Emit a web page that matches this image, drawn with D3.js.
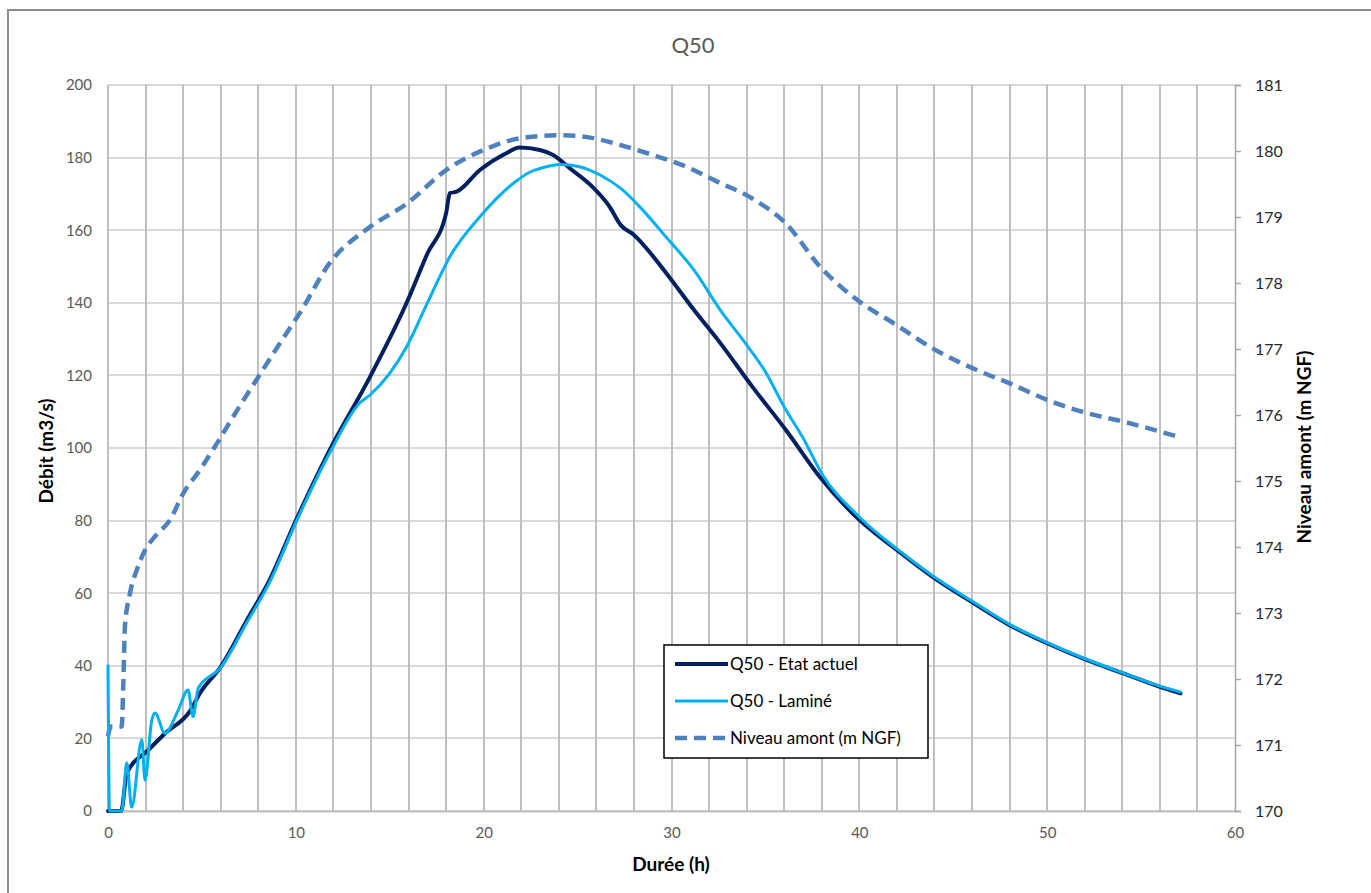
<!DOCTYPE html>
<html lang="fr">
<head>
<meta charset="UTF-8">
<title>Q50</title>
<style>
    body { margin:0; background:#fff; }
    svg { font-family: Lato, "Open Sans", sans-serif; }
    .grid line { shape-rendering:crispEdges; }
</style>
</head>
<body>
<script src="https://cdn.jsdelivr.net/npm/d3@7/dist/d3.min.js"></script>
<script>
// Q50 - Etat actuel (débit m3/s)
var actuelT = [0,0.7,1.0,2.15,3.0,4.4,4.9,6.0,7.4,8.6,10,11.8,13.95,15.9,17.0,18.0,18.2,18.56,19.8,21.2,21.9,23.0,23.7,24.6,25.7,26.7,27.3,28.0,29.6,31.2,32.6,34.3,36.1,37.9,40.0,42.0,43.9,46.1,48.0,50.0,52.1,54.05,56.0,57.1];
var actuelV = [0,0,10.4,16.8,21.2,27.8,32.5,39.7,52.6,63.6,80,99.4,119.6,140,153.5,164.7,170.2,170.6,176.6,181.2,182.8,182.1,180.7,177,172.4,166.5,161.4,158.7,149,138,128.9,116.9,104.9,92,80.2,71.9,64.5,57.2,51.2,46.2,41.6,37.9,34.2,32.4];

// Q50 - Laminé (débit m3/s)
var lamineT = [0,0.08,0.73,1.0,1.26,1.8,1.97,2.33,2.5,3.03,3.74,4.26,4.53,4.8,6.0,7.4,8.6,10,11.8,13.4,13.95,15.9,17.0,18.2,19.8,21.6,22.5,23.0,24.1,25.1,26.2,27.3,28.3,29.7,31.2,32.6,34.0,35.0,36.0,37.0,38.0,40,42,43.9,46.1,48,50,52.1,54.05,56,57.1];
var lamineV = [40,0,0,13.3,1,19.6,8.5,25,27,21.4,27.8,33.3,26,33.8,39.5,52,63,79.5,98.6,112.4,114.6,127.9,139.9,152.7,163.7,173,176.1,177,178.1,177.5,175.2,171.5,166.5,158.2,149,138,128.4,121,111.3,102.8,93,81,72.2,64.8,57.5,51.4,46.4,41.8,38.0,34.4,32.8];

// Niveau amont (m NGF), axe secondaire
var niveauT = [0,0.15,0.73,0.82,0.9,1.17,1.53,1.97,2.5,3.3,4.0,4.9,5.8,7.0,7.9,9.16,10.2,11.8,13.95,15.9,18.0,20.2,21.9,24.1,25.5,27.3,29.0,30.8,32.4,34.3,36.1,37.9,40,42,43.9,46.1,48,50,52.1,54.05,56,57.1];
var niveauV = [171.13,171.28,171.28,171.98,172.79,173.3,173.65,173.95,174.16,174.41,174.81,175.17,175.57,176.13,176.53,177.09,177.54,178.3,178.85,179.2,179.71,180.04,180.19,180.24,180.21,180.09,179.94,179.76,179.54,179.28,178.9,178.25,177.72,177.36,177.01,176.7,176.48,176.23,176.03,175.9,175.75,175.66];

var xTicks = [0,10,20,30,40,50,60];
var yTicks = [0,20,40,60,80,100,120,140,160,180,200];
var y2Ticks = [170,171,172,173,174,175,176,177,178,179,180,181];
var legendLabels = ["Q50 - Etat actuel","Q50 - Laminé","Niveau amont (m NGF)"];

var w = 1371, h = 893;
var pLeft = 108, pRight = 1235, pTop = 85, pBottom = 811;

var svg = d3.select("body").append("svg").attr("width",w).attr("height",h);

// cadre extérieur
svg.append("rect").attr("x",8).attr("y",10).attr("width",1400).attr("height",900)
    .attr("fill","none").attr("stroke","#8c8c8c").attr("stroke-width",2);

var x = d3.scaleLinear().domain([0,60]).range([pLeft,pRight]);
var y = d3.scaleLinear().domain([0,200]).range([pBottom,pTop]);
var y2 = d3.scaleLinear().domain([170,181]).range([pBottom,pTop]);

// grille horizontale
svg.append("g").attr("class","grid").selectAll("line")
    .data(yTicks).enter().append("line")
    .attr("x1",pLeft).attr("x2",pRight)
    .attr("y1",function (d) { return Math.round(y(d)); })
    .attr("y2",function (d) { return Math.round(y(d)); })
    .attr("stroke","#d9d9d9").attr("stroke-width",2);

// grille verticale, toutes les 2 h
svg.append("g").attr("class","grid").selectAll("line")
    .data(d3.range(0,60,2)).enter().append("line")
    .attr("x1",function (d) { return Math.round(x(d)); })
    .attr("x2",function (d) { return Math.round(x(d)); })
    .attr("y1",pTop).attr("y2",pBottom)
    .attr("stroke","#bfbfbf").attr("stroke-width",2);

// axe x
var xAxis = d3.axisBottom(x).tickValues(xTicks).tickSize(0).tickPadding(16);
var gx = svg.append("g").attr("transform","translate(0,"+pBottom+")").call(xAxis);
gx.select(".domain").attr("stroke","#bfbfbf").attr("stroke-width",2);
gx.selectAll("text").attr("fill","#595959").style("font-size","15px").style("font-family","Lato, sans-serif");

// axe y gauche
var yAxis = d3.axisLeft(y).tickValues(yTicks).tickSize(0).tickPadding(16);
var gy = svg.append("g").attr("transform","translate("+pLeft+",0)").call(yAxis);
gy.select(".domain").remove();
gy.selectAll("text").attr("fill","#595959").style("font-size","15px").style("font-family","Lato, sans-serif");

// axe y droit
var y2Axis = d3.axisRight(y2).tickValues(y2Ticks).tickSize(6).tickPadding(14);
var gy2 = svg.append("g").attr("transform","translate("+pRight+",0)").call(y2Axis);
gy2.select(".domain").attr("stroke","#a6a6a6").attr("stroke-width",1.5);
gy2.selectAll("line").attr("stroke","#a6a6a6").attr("stroke-width",1.5);
gy2.selectAll("text").attr("fill","#262626").style("font-size","16px").style("font-family","Lato, sans-serif");

// courbes
function lineOf(ts, vs, scale) {
    var pts = ts.map(function (t,i) { return [t, vs[i]]; });
    return d3.line()
        .x(function (d) { return x(d[0]); })
        .y(function (d) { return scale(d[1]); })
        .curve(d3.curveMonotoneX)(pts);
}

svg.append("path").attr("d",lineOf(niveauT,niveauV,y2))
    .attr("fill","none").attr("stroke","#4f81bd").attr("stroke-width",4.5)
    .attr("stroke-dasharray","12,7");

svg.append("path").attr("d",lineOf(actuelT,actuelV,y))
    .attr("fill","none").attr("stroke","#002060").attr("stroke-width",4)
    .attr("stroke-linejoin","round").attr("stroke-linecap","round");

svg.append("path").attr("d",lineOf(lamineT,lamineV,y))
    .attr("fill","none").attr("stroke","#00b0f0").attr("stroke-width",3)
    .attr("stroke-linejoin","round").attr("stroke-linecap","round");

// titres
svg.append("text").attr("x",693).attr("y",53).attr("text-anchor","middle")
    .attr("fill","#595959").style("font-size","22px").text("Q50");

svg.append("text").attr("x",671).attr("y",871).attr("text-anchor","middle")
    .attr("fill","#000").style("font-size","19px").style("font-weight","bold").text("Durée (h)");

svg.append("text").attr("transform","translate(53,451) rotate(-90)").attr("text-anchor","middle")
    .attr("fill","#000").style("font-size","19px").style("font-weight","bold").text("Débit (m3/s)");

svg.append("text").attr("transform","translate(1311,447) rotate(-90)").attr("text-anchor","middle")
    .attr("fill","#000").style("font-size","19px").style("font-weight","bold").text("Niveau amont (m NGF)");

// légende
var lg = svg.append("g").attr("transform","translate(664,645)");
lg.append("rect").attr("width",264).attr("height",113)
    .attr("fill","#fff").attr("stroke","#000").attr("stroke-width",1.5);
var legendStyles = [
    {color:"#002060", width:4, dash:null},
    {color:"#00b0f0", width:3, dash:null},
    {color:"#4f81bd", width:4.5, dash:"12,7"}
];
legendLabels.forEach(function (lab,i) {
    var yy = 19 + i*37;
    lg.append("line").attr("x1",11).attr("x2",64).attr("y1",yy).attr("y2",yy)
        .attr("stroke",legendStyles[i].color).attr("stroke-width",legendStyles[i].width)
        .attr("stroke-dasharray",legendStyles[i].dash);
    lg.append("text").attr("x",66).attr("y",yy+6).attr("fill","#000")
        .style("font-size","17px").text(lab);
});
</script>
</body>
</html>
